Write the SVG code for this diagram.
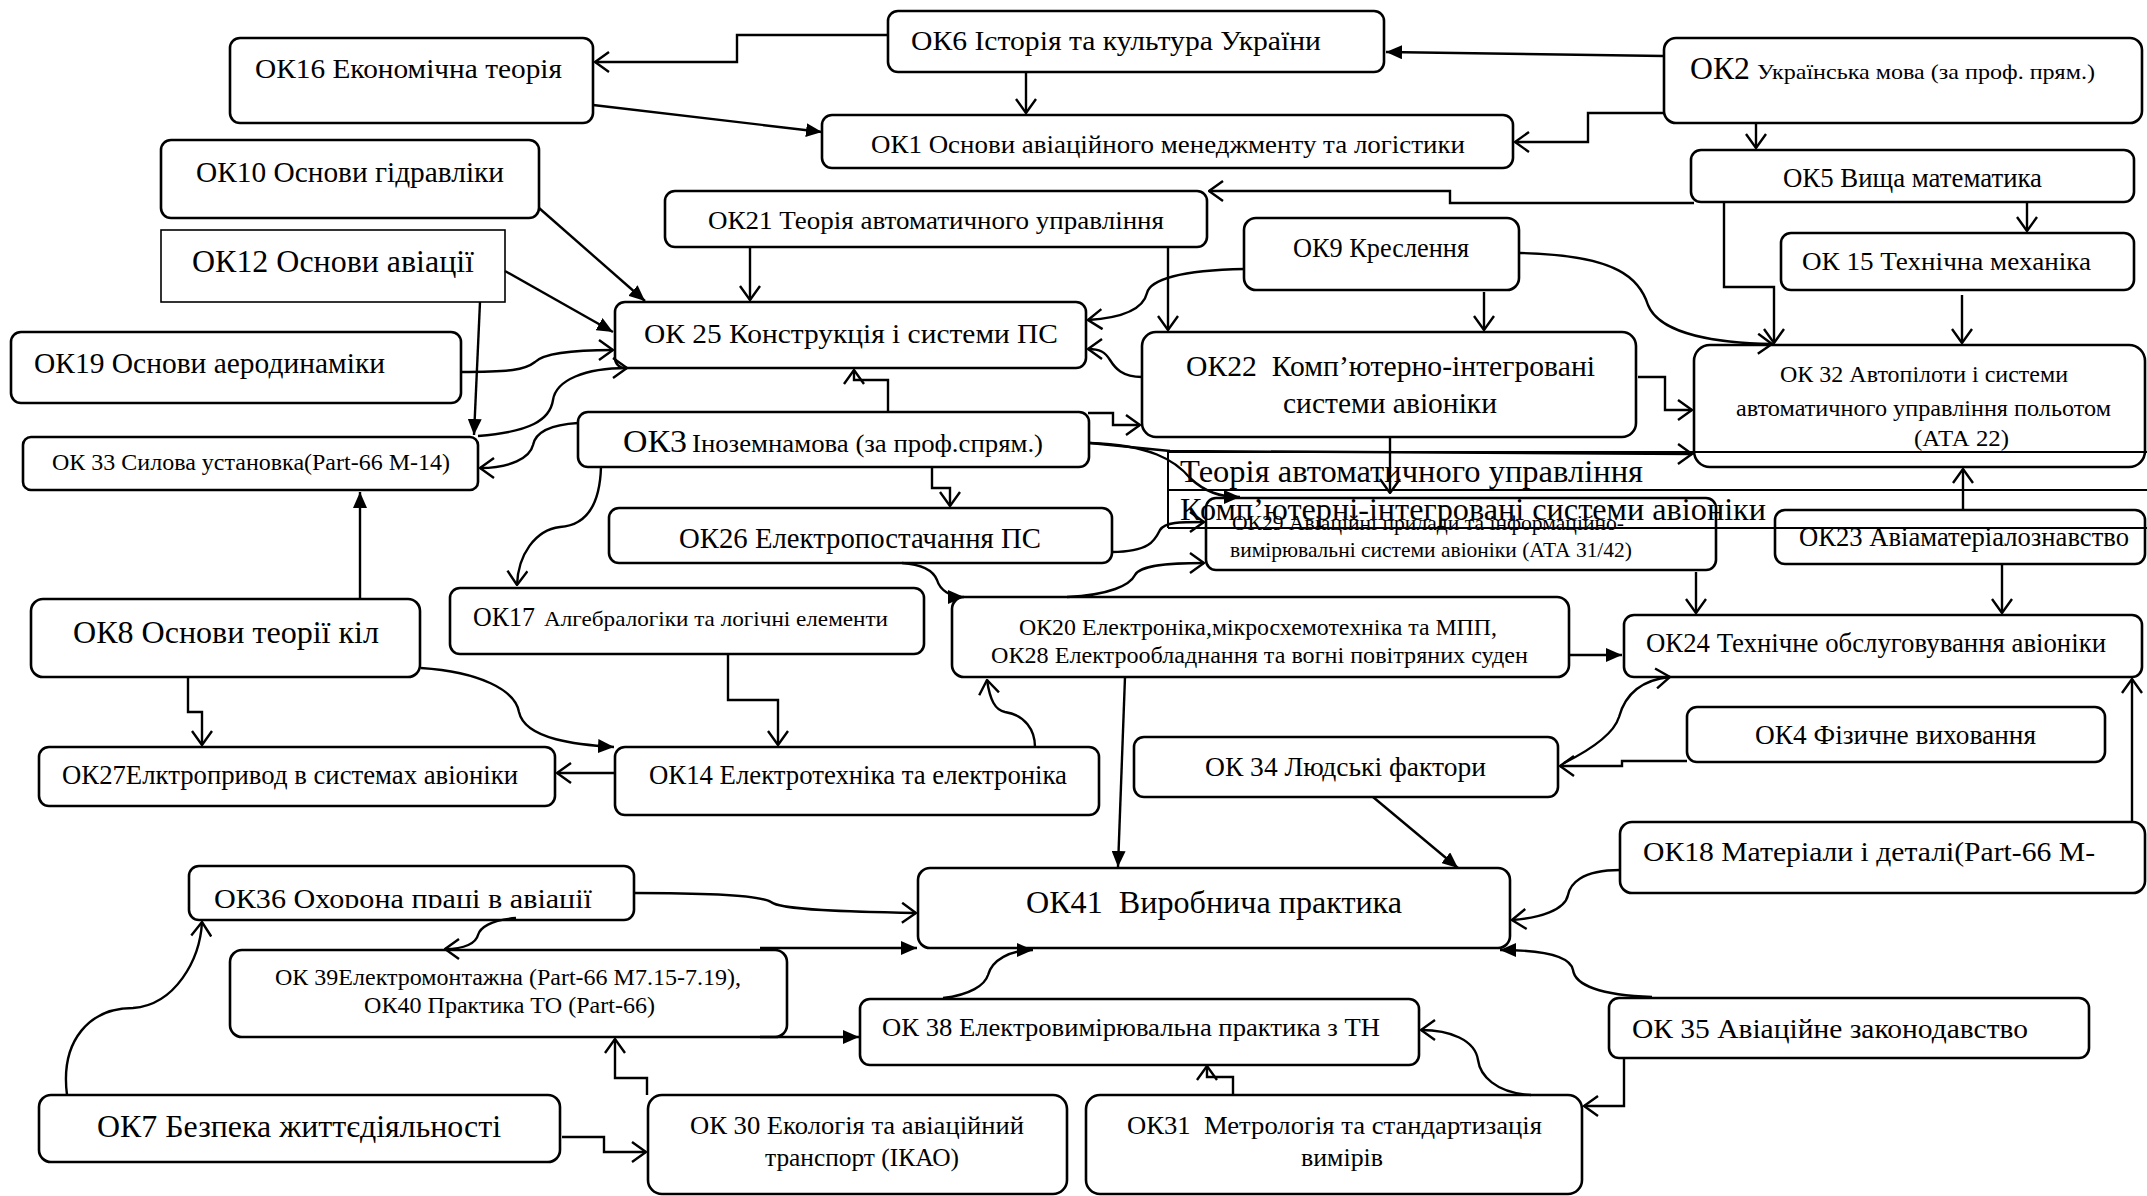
<svg xmlns="http://www.w3.org/2000/svg" width="2147" height="1196" viewBox="0 0 2147 1196">
<style>
.n{fill:#fff;stroke:#000;stroke-width:2.6}
.s{fill:#fff;stroke:#000;stroke-width:1.6}
text{font-family:"Liberation Serif","DejaVu Serif",serif;fill:#000}
.c path{fill:none;stroke:#000;stroke-width:2.4}
.o{marker-end:url(#open)}
.f{marker-end:url(#fill)}
.t{fill:none;stroke:#000;stroke-width:2}
</style>
<defs>
<marker id="open" viewBox="0 0 16 22" refX="15" refY="11" markerWidth="16" markerHeight="22" orient="auto" markerUnits="userSpaceOnUse"><path d="M1,1 L15,11 L1,21" fill="none" stroke="#000" stroke-width="2.4"/></marker>
<marker id="fill" viewBox="0 0 16 14" refX="16" refY="7" markerWidth="16" markerHeight="14" orient="auto" markerUnits="userSpaceOnUse"><path d="M0,0 L16,7 L0,14 Z" fill="#000"/></marker>
<clipPath id="clip36"><rect x="189" y="860" width="445" height="48"/></clipPath>
</defs>
<rect width="2147" height="1196" fill="#fff"/>
<g id="ok16"><rect class="n" x="230" y="38" width="363" height="85" rx="10"/><text x="255" y="78" font-size="28" textLength="307" lengthAdjust="spacingAndGlyphs">ОК16 Економічна теорія</text></g>
<g id="ok6"><rect class="n" x="888" y="11" width="496" height="61" rx="10"/><text x="911" y="50" font-size="28" textLength="410" lengthAdjust="spacingAndGlyphs">ОК6 Історія та культура України</text></g>
<g id="ok2"><rect class="n" x="1664" y="38" width="478" height="85" rx="12"/><text x="1690" y="79" font-size="31" textLength="60" lengthAdjust="spacingAndGlyphs">ОК2</text><text x="1757" y="79" font-size="22" textLength="338" lengthAdjust="spacingAndGlyphs">Українська мова (за проф. прям.)</text></g>
<g id="ok1"><rect class="n" x="822" y="115" width="691" height="53" rx="10"/><text x="871" y="153" font-size="26" textLength="594" lengthAdjust="spacingAndGlyphs">ОК1 Основи авіаційного менеджменту та логістики</text></g>
<g id="ok10"><rect class="n" x="161" y="140" width="378" height="78" rx="10"/><text x="196" y="182" font-size="29" textLength="308" lengthAdjust="spacingAndGlyphs">ОК10 Основи гідравліки</text></g>
<g id="ok5"><rect class="n" x="1691" y="150" width="443" height="52" rx="10"/><text x="1783" y="187" font-size="28" textLength="259" lengthAdjust="spacingAndGlyphs">ОК5 Вища математика</text></g>
<g id="ok21"><rect class="n" x="665" y="191" width="542" height="56" rx="10"/><text x="708" y="229" font-size="26" textLength="456" lengthAdjust="spacingAndGlyphs">ОК21 Теорія автоматичного управління</text></g>
<g id="ok12"><rect class="s" x="161" y="230" width="344" height="72"/><text x="192" y="272" font-size="31" textLength="282" lengthAdjust="spacingAndGlyphs">ОК12 Основи авіації</text></g>
<g id="ok9"><rect class="n" x="1244" y="218" width="275" height="72" rx="12"/><text x="1293" y="257" font-size="28" textLength="176" lengthAdjust="spacingAndGlyphs">ОК9 Креслення</text></g>
<g id="ok15"><rect class="n" x="1781" y="233" width="353" height="57" rx="10"/><text x="1802" y="270" font-size="26" textLength="289" lengthAdjust="spacingAndGlyphs">ОК 15 Технічна механіка</text></g>
<g id="ok25"><rect class="n" x="615" y="302" width="471" height="66" rx="10"/><text x="644" y="343" font-size="28" textLength="414" lengthAdjust="spacingAndGlyphs">ОК 25 Конструкція і системи ПС</text></g>
<g id="ok22"><rect class="n" x="1142" y="332" width="494" height="105" rx="14"/><text x="1186" y="376" font-size="29" textLength="409" lengthAdjust="spacingAndGlyphs">ОК22&#160; Комп’ютерно-інтегровані</text><text x="1283" y="413" font-size="29" textLength="214" lengthAdjust="spacingAndGlyphs">системи авіоніки</text></g>
<g id="ok19"><rect class="n" x="11" y="332" width="450" height="71" rx="10"/><text x="34" y="373" font-size="29" textLength="351" lengthAdjust="spacingAndGlyphs">ОК19 Основи аеродинаміки</text></g>
<g id="ok32"><rect class="n" x="1694" y="345" width="451" height="122" rx="16"/><text x="1780" y="382" font-size="23" textLength="288" lengthAdjust="spacingAndGlyphs">ОК 32 Автопілоти і системи</text><text x="1736" y="416" font-size="23" textLength="375" lengthAdjust="spacingAndGlyphs">автоматичного управління польотом</text><text x="1914" y="446" font-size="23" textLength="95" lengthAdjust="spacingAndGlyphs">(АТА 22)</text></g>
<g id="ok33"><rect class="n" x="23" y="437" width="455" height="53" rx="8"/><text x="52" y="470" font-size="23" textLength="398" lengthAdjust="spacingAndGlyphs">ОК 33 Силова установка(Part-66 М-14)</text></g>
<g id="ok3"><rect class="n" x="578" y="412" width="511" height="55" rx="10"/><text x="623" y="452" font-size="32" textLength="64" lengthAdjust="spacingAndGlyphs">ОК3</text><text x="692" y="452" font-size="25" textLength="351" lengthAdjust="spacingAndGlyphs">Іноземнамова (за проф.спрям.)</text></g>
<g id="ok29"><rect class="n" x="1206" y="498" width="510" height="72" rx="10"/><text x="1232" y="530" font-size="21" textLength="392" lengthAdjust="spacingAndGlyphs">ОК29 Авіаційні прилади та інформаційно-</text><text x="1230" y="557" font-size="21" textLength="402" lengthAdjust="spacingAndGlyphs">вимірювальні системи авіоніки (АТА 31/42)</text></g>
<g id="ok26"><rect class="n" x="609" y="508" width="503" height="55" rx="10"/><text x="679" y="548" font-size="29" textLength="362" lengthAdjust="spacingAndGlyphs">ОК26 Електропостачання ПС</text></g>
<g id="ok23"><rect class="n" x="1775" y="510" width="370" height="54" rx="10"/><text x="1799" y="546" font-size="27" textLength="330" lengthAdjust="spacingAndGlyphs">ОК23 Авіаматеріалознавство</text></g>
<g id="ok8"><rect class="n" x="31" y="599" width="389" height="78" rx="12"/><text x="73" y="643" font-size="31" textLength="306" lengthAdjust="spacingAndGlyphs">ОК8 Основи теорії кіл</text></g>
<g id="ok17"><rect class="n" x="450" y="588" width="474" height="66" rx="10"/><text x="473" y="626" font-size="27" textLength="62" lengthAdjust="spacingAndGlyphs">ОК17</text><text x="544" y="626" font-size="21" textLength="344" lengthAdjust="spacingAndGlyphs">Алгебралогіки та логічні елементи</text></g>
<g id="ok20"><rect class="n" x="952" y="597" width="617" height="80" rx="12"/><text x="1019" y="635" font-size="24" textLength="478" lengthAdjust="spacingAndGlyphs">ОК20 Електроніка,мікросхемотехніка та МПП,</text><text x="991" y="663" font-size="24" textLength="537" lengthAdjust="spacingAndGlyphs">ОК28 Електрообладнання та вогні повітряних суден</text></g>
<g id="ok24"><rect class="n" x="1624" y="615" width="518" height="62" rx="10"/><text x="1646" y="652" font-size="27" textLength="460" lengthAdjust="spacingAndGlyphs">ОК24 Технічне обслуговування авіоніки</text></g>
<g id="ok27"><rect class="n" x="39" y="747" width="516" height="59" rx="10"/><text x="62" y="784" font-size="27" textLength="456" lengthAdjust="spacingAndGlyphs">ОК27Елктропривод в системах авіоніки</text></g>
<g id="ok14"><rect class="n" x="615" y="747" width="484" height="68" rx="10"/><text x="649" y="784" font-size="27" textLength="418" lengthAdjust="spacingAndGlyphs">ОК14 Електротехніка та електроніка</text></g>
<g id="ok34"><rect class="n" x="1134" y="737" width="424" height="60" rx="10"/><text x="1205" y="776" font-size="28" textLength="281" lengthAdjust="spacingAndGlyphs">ОК 34 Людські фактори</text></g>
<g id="ok4"><rect class="n" x="1687" y="707" width="418" height="55" rx="10"/><text x="1755" y="744" font-size="28" textLength="281" lengthAdjust="spacingAndGlyphs">ОК4 Фізичне виховання</text></g>
<g id="ok18"><rect class="n" x="1620" y="822" width="525" height="71" rx="12"/><text x="1643" y="861" font-size="28" textLength="452" lengthAdjust="spacingAndGlyphs">ОК18 Матеріали і деталі(Part-66 М-</text></g>
<g id="ok36"><rect class="n" x="189" y="866" width="445" height="54" rx="10"/><text x="214" y="908" font-size="28" textLength="378" lengthAdjust="spacingAndGlyphs" clip-path="url(#clip36)">ОК36 Охорона праці в авіації</text></g>
<g id="ok41"><rect class="n" x="918" y="868" width="592" height="80" rx="12"/><text x="1026" y="913" font-size="31" textLength="376" lengthAdjust="spacingAndGlyphs">ОК41&#160; Виробнича практика</text></g>
<g id="ok39"><rect class="n" x="230" y="950" width="557" height="87" rx="12"/><text x="275" y="985" font-size="23" textLength="466" lengthAdjust="spacingAndGlyphs">ОК 39Електромонтажна (Part-66 М7.15-7.19),</text><text x="364" y="1013" font-size="23" textLength="291" lengthAdjust="spacingAndGlyphs">ОК40 Практика ТО (Part-66)</text></g>
<g id="ok38"><rect class="n" x="860" y="999" width="559" height="66" rx="10"/><text x="882" y="1036" font-size="26" textLength="498" lengthAdjust="spacingAndGlyphs">ОК 38 Електровимірювальна практика з ТН</text></g>
<g id="ok35"><rect class="n" x="1609" y="998" width="480" height="60" rx="10"/><text x="1632" y="1038" font-size="28" textLength="396" lengthAdjust="spacingAndGlyphs">ОК 35 Авіаційне законодавство</text></g>
<g id="ok7"><rect class="n" x="39" y="1095" width="521" height="67" rx="12"/><text x="97" y="1137" font-size="31" textLength="404" lengthAdjust="spacingAndGlyphs">ОК7 Безпека життєдіяльності</text></g>
<g id="ok30"><rect class="n" x="648" y="1095" width="419" height="99" rx="14"/><text x="690" y="1134" font-size="25" textLength="334" lengthAdjust="spacingAndGlyphs">ОК 30 Екологія та авіаційний</text><text x="765" y="1166" font-size="25" textLength="194" lengthAdjust="spacingAndGlyphs">транспорт (ІКАО)</text></g>
<g id="ok31"><rect class="n" x="1086" y="1095" width="496" height="99" rx="14"/><text x="1127" y="1134" font-size="25" textLength="415" lengthAdjust="spacingAndGlyphs">ОК31&#160; Метрологія та стандартизація</text><text x="1301" y="1166" font-size="25" textLength="82" lengthAdjust="spacingAndGlyphs">вимірів</text></g>
<g id="connectors" class="c">
<path class="o" d="M888,35 H737 V62 H595"/>
<path class="f" d="M593,105 L822,132"/>
<path class="o" d="M1026,72 V113"/>
<path class="f" d="M1664,56 L1386,52"/>
<path class="o" d="M1664,113 H1588 V142 H1515"/>
<path class="o" d="M1756,123 V148"/>
<path class="o" d="M1694,203 H1450 V191 H1209"/>
<path class="o" d="M2027,202 V231"/>
<path class="o" d="M1724,202 V287 H1774 V343"/>
<path class="o" d="M1520,253 C1620,255 1640,280 1648,305 C1660,335 1720,343 1772,344"/>
<path class="o" d="M1962,295 V343"/>
<path class="o" d="M750,247 V300"/>
<path class="o" d="M1168,247 V330"/>
<path class="o" d="M1244,269 C1180,270 1150,280 1147,293 C1143,310 1120,318 1088,320"/>
<path class="o" d="M1484,292 V330"/>
<path class="o" d="M1142,377 C1122,377 1115,368 1110,360 C1105,352 1100,349 1088,349"/>
<path class="o" d="M1638,377 H1665 V410 H1692"/>
<path class="f" d="M539,208 L645,301"/>
<path class="f" d="M505,271 L613,332"/>
<path class="o" d="M461,372 C510,372 525,370 535,362 C545,352 580,350 613,350"/>
<path class="f" d="M480,302 L474,435"/>
<path class="o" d="M478,436 C530,432 550,420 553,400 C556,380 585,368 627,368"/>
<path class="o" d="M578,423 C545,425 535,435 533,445 C530,458 510,468 480,468"/>
<path class="o" d="M601,467 C600,500 590,525 560,527 C535,530 518,555 517,585"/>
<path class="o" d="M888,412 V380 H854 V370"/>
<path class="o" d="M1088,413 H1113 V425 H1140"/>
<path class="o" d="M932,468 V488 H950 V506"/>
<path class="o" d="M1090,443 L1170,451 L1692,454"/>
<path class="f" d="M1090,443 C1150,445 1175,460 1190,478 C1205,492 1220,497 1240,497"/>
<path class="o" d="M1390,437 V493"/>
<path class="o" d="M1112,552 C1150,552 1155,540 1160,530 C1165,522 1180,522 1204,522"/>
<path class="o" d="M1067,597 C1110,595 1130,585 1135,575 C1140,565 1170,563 1204,563"/>
<path class="f" d="M902,563 C930,565 935,575 937,580 C940,590 950,597 964,597"/>
<path class="o" d="M1963,510 V469"/>
<path class="o" d="M1696,572 V613"/>
<path class="o" d="M2002,564 V613"/>
<path class="f" d="M1569,655 H1622"/>
<path class="f" d="M360,599 V492"/>
<path class="o" d="M188,677 V712 H202 V745"/>
<path class="f" d="M421,668 C480,672 515,690 519,712 C525,740 580,745 614,747"/>
<path class="o" d="M615,773 H557"/>
<path class="o" d="M728,654 V700 H778 V745"/>
<path class="o" d="M1035,747 C1035,730 1025,715 1005,712 C995,710 990,700 987,680"/>
<path class="f" d="M1125,677 L1118,867"/>
<path class="f" d="M1373,797 L1458,868"/>
<path class="o" d="M1687,761 H1622 V766 H1560"/>
<path class="o" d="M1564,763 C1600,745 1615,730 1619,717 C1625,695 1640,680 1670,677"/>
<path class="o" d="M2132,822 V679"/>
<path class="o" d="M1620,870 C1580,870 1570,885 1568,895 C1565,910 1540,918 1512,920"/>
<path class="f" d="M1652,997 C1600,995 1575,985 1573,970 C1570,955 1540,950 1500,950"/>
<path class="o" d="M1624,1058 V1106 H1584"/>
<path class="o" d="M1531,1095 C1495,1093 1480,1075 1478,1060 C1475,1040 1450,1030 1421,1030"/>
<path class="o" d="M1233,1095 V1077 H1207 V1066"/>
<path class="f" d="M943,998 C970,995 985,985 988,975 C992,960 1010,950 1033,950"/>
<path class="o" d="M634,893 C700,893 760,895 771,902 C780,910 850,912 916,913"/>
<path class="f" d="M760,948 H917"/>
<path class="f" d="M760,1037 H859"/>
<path class="o" d="M516,918 C490,920 480,928 478,935 C476,943 465,949 445,949"/>
<path class="o" d="M67,1095 C60,1040 90,1008 133,1008 C175,1005 200,960 202,922"/>
<path class="o" d="M647,1095 V1078 H615 V1039"/>
<path class="o" d="M562,1137 H604 V1152 H646"/>
</g>
<g id="overlay">
<path class="t" d="M1168,452 H2147 M1168,490 H2147 M1168,528 H2147 M1168,452 V528"/>
<text x="1180" y="482" font-size="31" textLength="463" lengthAdjust="spacingAndGlyphs">Теорія автоматичного управління</text>
<text x="1180" y="520" font-size="31" textLength="586" lengthAdjust="spacingAndGlyphs">Комп’ютерні-інтегровані системи авіоніки</text>
</g>
</svg>
